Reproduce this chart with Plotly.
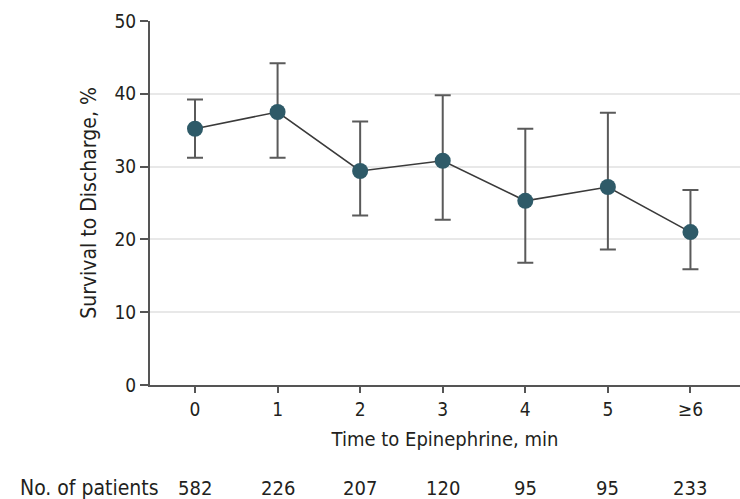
import plotly.graph_objects as go

categories = ["0", "1", "2", "3", "4", "5", "≥6"]
survival = [35.2, 37.5, 29.4, 30.8, 25.3, 27.2, 21.0]
ci_upper = [39.2, 44.2, 36.2, 39.8, 35.2, 37.4, 26.8]
ci_lower = [31.2, 31.2, 23.3, 22.7, 16.8, 18.6, 15.9]
patients = [582, 226, 207, 120, 95, 95, 233]

xpos = list(range(len(categories)))
err_plus = [u - v for u, v in zip(ci_upper, survival)]
err_minus = [v - l for v, l in zip(survival, ci_lower)]

FONT = "DejaVu Sans Condensed, Liberation Sans Narrow, sans-serif"
TXT = "#231f20"

fig = go.Figure()
fig.add_trace(go.Scatter(
    x=xpos, y=survival, mode="lines+markers",
    line=dict(color="#3a3a3a", width=1.6),
    marker=dict(size=16, color="#2e5a68"),
    error_y=dict(type="data", symmetric=False, array=err_plus, arrayminus=err_minus,
                 color="#5a5a5a", thickness=2, width=8),
    showlegend=False, hoverinfo="skip",
))

for xi, n in zip(xpos, patients):
    fig.add_annotation(x=xi, y=0, xref="x", yref="paper", yshift=-103, yanchor="middle",
                       text=str(n), showarrow=False,
                       font=dict(family=FONT, size=20, color=TXT))
fig.add_annotation(x=0, y=0, xref="paper", yref="paper", xshift=-132, yshift=-103,
                   xanchor="left", yanchor="middle", text="No. of patients", showarrow=False,
                   font=dict(family=FONT, size=21, color=TXT))

fig.update_layout(
    width=740, height=499,
    margin=dict(l=150, r=0, t=21, b=114, autoexpand=False),
    plot_bgcolor="white", paper_bgcolor="white",
    font=dict(family=FONT, size=19, color=TXT),
    xaxis=dict(range=[-0.545, 6.6], tickvals=xpos, ticktext=categories, automargin=False,
               showgrid=False, zeroline=False, showline=True, linecolor="#555555",
               linewidth=2, ticks="outside", ticklen=6, tickwidth=1.5, tickcolor="#555555",
               tickfont=dict(size=19),
               title=dict(text="Time to Epinephrine, min", font=dict(size=20), standoff=13)),
    yaxis=dict(range=[0, 50], tickvals=[0, 10, 20, 30, 40, 50], automargin=False,
               showgrid=True, gridcolor="#e8e8e8", gridwidth=1.5, zeroline=False,
               showline=True, linecolor="#555555", linewidth=2,
               ticks="outside", ticklen=8, tickwidth=1.5, tickcolor="#555555",
               tickfont=dict(size=19),
               title=dict(text="Survival to Discharge, %", font=dict(size=21), standoff=12)),
)

fig.write_html("out.html", config={"displayModeBar": False},
               post_script="document.body.style.margin='0';")
